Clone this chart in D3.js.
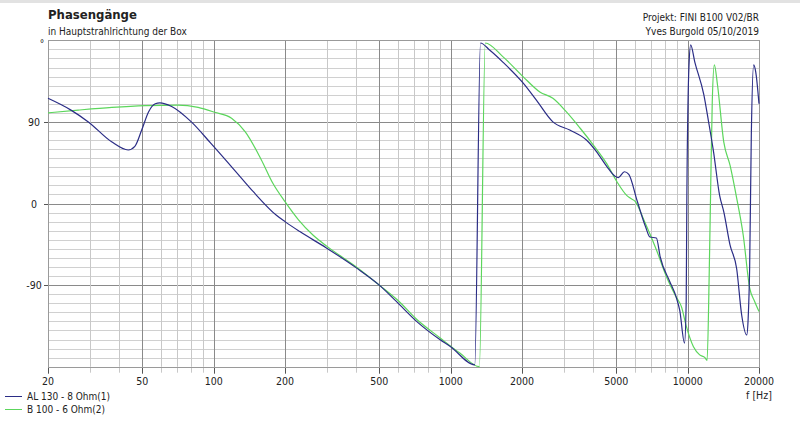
<!DOCTYPE html>
<html><head><meta charset="utf-8">
<script src="https://cdn.jsdelivr.net/npm/d3@7"></script>
<style>
html,body{margin:0;padding:0;background:#fff;}
svg{display:block;}
text{font-family:"DejaVu Sans Condensed","DejaVu Sans",sans-serif;fill:#222;}
</style></head>
<body><svg id="c" width="800" height="427"></svg>
<script>
// ---- data ----
const freqTicks = [20, 50, 100, 200, 500, 1000, 2000, 5000, 10000, 20000];
const phaseTicks = [90, 0, -90];
const seriesNames = ["AL 130 - 8 Ohm(1)", "B 100 - 6 Ohm(2)"];

const freqA = [20,25,29.6,37.1,43.6,46.5,49.7,53.1,56.7,59.3,66.5,80.5,97.6,129,147,184,200,231,299,400,500,590,718,900,1000,1264,1336,1464,1660,2020,2300,2700,3180,3740,4130,4555,4940,5100,5410,5645,6120,6650,6930,7380,7660,8400,8940,9260,9700,9860,9920,10120,10300,10720,11700,12220,12860,13640,14200,15100,16100,16900,17750,18000,18260,18560,19000,19380,20000];
const phaseA = [116,103,90,68,59,63,81,101,110,111,107,90,66,30,13,-13,-20,-31,-49,-71,-90,-108,-130,-150,-158,-178,177,169,156,133,114,90,81,70,57,41,30,28.5,35,32,3,-26,-37,-38,-59,-86,-103,-118,-154,-108,2,149,175,156,120,92,57,9,-9,-46,-72,-123,-145,-127,-72,75,153,145,110];

const freqB = [20,26.8,37.2,51.3,70.7,86,101,119,136,159,178,200,228,263,300,400,500,600,720,900,1093,1322,1400,1660,2020,2378,2700,3080,3520,4000,4555,5030,5530,5720,6020,6530,7380,8150,8940,9420,9860,10580,11240,11830,12080,12340,12500,12700,12960,13360,14200,15100,16100,17160,18260,19170,20000];
const phaseB = [100,103,106,108,108.6,106,100.6,94,79,48,22,2,-18,-35,-47,-70,-90,-107,-128,-148,-165,-180,177,162,140,123,116,101,83,64.5,44,24,9,6,2,-18,-51,-81,-103,-114,-135,-158,-167,-170,-173,-72,13,112,153,131,68,42,6,-35,-93,-108,-119];

const colors = ["#2b2d86", "#5cd65c"];

// ---- chart ----
const svg = d3.select("#c");
const L = 48, R = 759, T = 40.3, B = 366.7;
const x = d3.scaleLog().domain([20, 20000]).range([L, R]);
const y = d3.scaleLinear().domain([-180, 180]).range([B, T]);

svg.append("rect").attr("x",0).attr("y",0).attr("width",800).attr("height",3).attr("fill","#e2e2e2");

// grid
const allFreq = [];
for (let k = 1; k <= 4; k++) for (let d = 1; d <= 9; d++) { const f = d * Math.pow(10, k); if (f >= 20 && f <= 20000) allFreq.push(f); }
const g = svg.append("g");
const hLines = d3.range(-170, 180, 10);
g.selectAll("line.h").data(hLines).join("line")
  .attr("x1", L).attr("x2", R).attr("y1", d => Math.round(y(d)) + 0.5).attr("y2", d => Math.round(y(d)) + 0.5)
  .attr("stroke", d => d % 90 === 0 ? "#8a8a8a" : "#d0d0d0").attr("stroke-width", 1);
g.selectAll("line.v").data(allFreq).join("line")
  .attr("x1", d => Math.round(x(d)) + 0.5).attr("x2", d => Math.round(x(d)) + 0.5)
  .attr("y1", T).attr("y2", B)
  .attr("stroke", d => freqTicks.includes(d) ? "#8a8a8a" : "#c8c8c8").attr("stroke-width", 1);
g.selectAll("line.t").data(allFreq).join("line")
  .attr("x1", d => Math.round(x(d)) + 0.5).attr("x2", d => Math.round(x(d)) + 0.5)
  .attr("y1", B).attr("y2", d => B + (freqTicks.includes(d) ? 7 : 6))
  .attr("stroke", d => freqTicks.includes(d) ? "#555" : "#c8c8c8");
svg.append("rect").attr("x", L + 0.5).attr("y", Math.round(T) + 0.5).attr("width", R - L).attr("height", Math.round(B) - Math.round(T))
  .attr("fill", "none").attr("stroke", "#9a9a9a");

// x labels
svg.append("g").selectAll("text").data(freqTicks).join("text")
  .attr("x", d => x(d)).attr("y", 385).attr("text-anchor", "middle").attr("font-size", 10.5).text(d => d);
svg.append("text").attr("x", x(20000)).attr("y", 399).attr("text-anchor", "middle").attr("font-size", 10.5).text("f [Hz]");

// y labels
svg.append("g").selectAll("text").data(phaseTicks).join("text")
  .attr("x", 34).attr("y", d => y(d) + 4).attr("text-anchor", "middle").attr("font-size", 10.5).text(d => d);
svg.append("g").selectAll("line").data(phaseTicks).join("line")
  .attr("x1", 44).attr("x2", L).attr("y1", d => Math.round(y(d)) + 0.5).attr("y2", d => Math.round(y(d)) + 0.5).attr("stroke", "#555");
svg.append("text").attr("x", 42).attr("y", 47).attr("text-anchor", "middle").attr("font-size", 10).text("°");

// titles
svg.append("text").attr("x", 48).attr("y", 19).attr("font-size", 13).attr("font-weight", "bold").text("Phasengänge");
svg.append("text").attr("x", 48).attr("y", 35).attr("font-size", 10).text("in Hauptstrahlrichtung der Box");
svg.append("text").attr("x", 759).attr("y", 21).attr("text-anchor", "end").attr("font-size", 10).text("Projekt: FINI B100 V02/BR");
svg.append("text").attr("x", 759).attr("y", 35).attr("text-anchor", "end").attr("font-size", 10).text("Yves Burgold 05/10/2019");

// curves
const line = d3.line().curve(d3.curveMonotoneX).x(d => x(d[0])).y(d => y(d[1]));
const dataA = freqA.map((f, i) => [f, phaseA[i]]);
const dataB = freqB.map((f, i) => [f, phaseB[i]]);
svg.append("path").datum(dataB).attr("d", line).attr("fill", "none").attr("stroke", colors[1]).attr("stroke-width", 1.2);
svg.append("path").datum(dataA).attr("d", line).attr("fill", "none").attr("stroke", colors[0]).attr("stroke-width", 1.2);

// legend
const lg = svg.append("g").selectAll("g").data(seriesNames).join("g")
  .attr("transform", (d, i) => `translate(0,${396 + i * 13})`);
lg.append("line").attr("x1", 5).attr("x2", 22).attr("y1", 0.5).attr("y2", 0.5).attr("stroke", (d, i) => colors[i]);
lg.append("text").attr("x", 27).attr("y", 4).attr("font-size", 10).text(d => d);
</script></body></html>
